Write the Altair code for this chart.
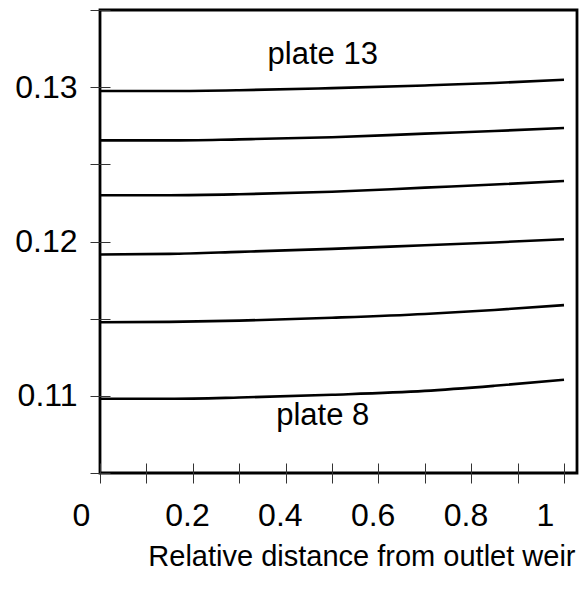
import altair as alt
import pandas as pd

# ---- data ----
x_pos = [0.0, 0.15, 0.3, 0.5, 0.7, 0.85, 1.0]
plate_13 = [0.12975, 0.12975, 0.12980, 0.12994, 0.13011, 0.13027, 0.13048]
plate_12 = [0.12655, 0.12655, 0.12662, 0.12675, 0.12699, 0.12716, 0.12735]
plate_11 = [0.12300, 0.12300, 0.12306, 0.12322, 0.12349, 0.12369, 0.12392]
plate_10 = [0.11916, 0.11920, 0.11933, 0.11952, 0.11976, 0.11994, 0.12015]
plate_9 = [0.11477, 0.11479, 0.11487, 0.11506, 0.11530, 0.11556, 0.11588]
plate_8 = [0.10981, 0.10981, 0.10989, 0.11007, 0.11032, 0.11065, 0.11104]

series = {
    "plate 13": plate_13,
    "plate 12": plate_12,
    "plate 11": plate_11,
    "plate 10": plate_10,
    "plate 9": plate_9,
    "plate 8": plate_8,
}

x_ticks = [0.0, 0.1, 0.2, 0.3, 0.4, 0.5, 0.6, 0.7, 0.8, 0.9, 1.0]
y_ticks = [0.105, 0.11, 0.115, 0.12, 0.125, 0.13, 0.135]

label_text = ["plate 13", "plate 8"]
label_x = [0.48, 0.48]
label_y = [0.13153, 0.10813]

rows = []
for name, vals in series.items():
    for xv, yv in zip(x_pos, vals):
        rows.append({"plate": name, "x": xv, "y": yv})
df = pd.DataFrame(rows)
labels_df = pd.DataFrame({"text": label_text, "x": label_x, "y": label_y})

FONT = "Liberation Sans, Arial, sans-serif"
FS_TICK = 32
FS_NOTE = 31
FS_TITLE = 29

x_scale = alt.Scale(domain=[0, 1.028], nice=False, zero=False)
y_scale = alt.Scale(domain=[0.105, 0.135], nice=False, zero=False)

x_axis = alt.Axis(
    values=x_ticks,
    labelExpr="round(datum.value*10) % 2 == 0 ? format(datum.value, '~g') : ''",
    domain=False,
    grid=False,
    offset=-10,
    tickSize=20,
    tickColor="#333333",
    tickWidth=1,
    labelFont=FONT,
    labelFontSize=FS_TICK,
    labelColor="black",
    labelAlign="left",
    labelOffset=-28,
    labelBaseline="alphabetic",
    labelPadding=42,
    labelFlush=False,
    labelOverlap=False,
    title="Relative distance from outlet weir",
    titleFont=FONT,
    titleFontSize=FS_TITLE,
    titleFontWeight="normal",
    titleColor="black",
    titleAlign="right",
    titleBaseline="alphabetic",
    titleX=475,
    titleY=102,
)

y_axis = alt.Axis(
    values=y_ticks,
    labelExpr="round(datum.value*1000) % 10 == 0 ? format(datum.value, '.2f') : ''",
    domain=False,
    grid=False,
    offset=-10,
    tickSize=20,
    tickColor="#333333",
    tickWidth=1,
    labelFont=FONT,
    labelFontSize=FS_TICK,
    labelColor="black",
    labelPadding=13,
    labelFlush=False,
    labelOverlap=False,
    title=None,
)

lines = alt.Chart(df).mark_line(
    color="black", strokeWidth=2.6, interpolate="monotone"
).encode(
    x=alt.X("x:Q", scale=x_scale, axis=x_axis),
    y=alt.Y("y:Q", scale=y_scale, axis=y_axis),
    detail="plate:N",
)

texts = alt.Chart(labels_df).mark_text(
    font=FONT, fontSize=FS_NOTE, color="black", align="center", baseline="alphabetic"
).encode(
    x=alt.X("x:Q", scale=x_scale),
    y=alt.Y("y:Q", scale=y_scale),
    text="text:N",
)

chart = (
    alt.layer(lines, texts)
    .properties(
        width=477,
        height=463,
        autosize=alt.AutoSizeParams(type="none"),
        padding={"left": 92, "top": 2, "right": 2, "bottom": 101},
    )
    .configure(background="white")
    .configure_view(stroke="black", strokeWidth=2.8)
)

chart.save("out.html", embed_options={"renderer": "svg", "actions": False})
